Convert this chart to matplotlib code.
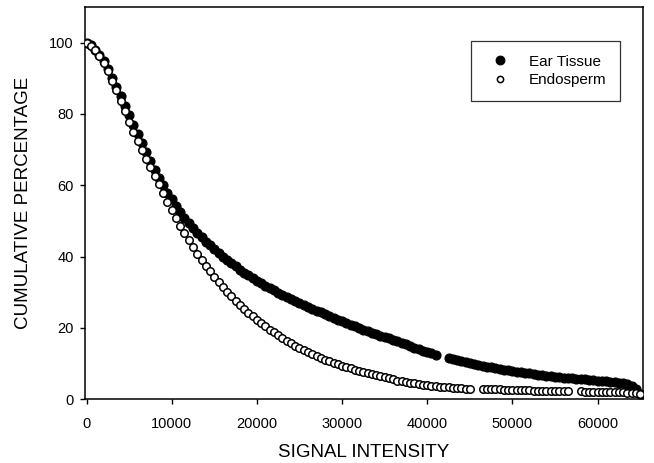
import numpy as np
import matplotlib
matplotlib.use("Agg")
import matplotlib.pyplot as plt

# signal intensity bins (step 500), shared by both series
intensity = np.arange(0, 65001, 500)

# cumulative percentage (nan = no point in the bin)
ear_tissue = [
    100, 99.2, 98.0, 96.6, 94.8, 92.6, 90.2, 87.6, 85.0, 82.3,
    79.6, 76.9, 74.3, 71.7, 69.2, 66.8, 64.4, 62.1, 60.0, 57.9,
    56.0, 54.2, 52.5, 50.9, 49.4, 48.0, 46.7, 45.4, 44.2, 43.1,
    42.0, 40.9, 39.9, 39.0, 38.1, 37.2, 36.3, 35.5, 34.7, 33.9,
    33.2, 32.5, 31.8, 31.1, 30.5, 29.9, 29.3, 28.7, 28.1, 27.5,
    26.9, 26.4, 25.8, 25.3, 24.8, 24.3, 23.8, 23.3, 22.8, 22.3,
    21.8, 21.3, 20.8, 20.4, 19.9, 19.5, 19.0, 18.6, 18.2, 17.8,
    17.4, 17.0, 16.6, 16.2, 15.8, 15.4, 14.8, 14.4, 14.0, 13.6,
    13.2, 12.8, 12.4, np.nan, np.nan, 11.6, 11.3, 11.0, 10.7, 10.4,
    10.1, 9.8, 9.6, 9.3, 9.1, 8.9, 8.7, 8.5, 8.3, 8.1,
    7.9, 7.7, 7.5, 7.4, 7.3, 7.1, 6.9, 6.8, 6.6, 6.5,
    6.3, 6.2, 6.0, 5.9, 5.8, 5.7, 5.6, 5.5, 5.4, 5.3,
    5.2, 5.1, 5.0, 4.9, 4.8, 4.6, 4.4, 4.1, 3.6, 2.8,
    1.5,
]

endosperm = [
    100, 99.0, 97.8, 96.2, 94.2, 91.9, 89.3, 86.6, 83.7, 80.8,
    77.8, 75.0, 72.3, 69.8, 67.4, 65.0, 62.6, 60.2, 57.8, 55.4,
    53.1, 50.8, 48.6, 46.5, 44.5, 42.6, 40.8, 39.1, 37.4, 35.8,
    34.3, 32.8, 31.4, 30.0, 28.8, 27.6, 26.4, 25.3, 24.2, 23.2,
    22.2, 21.3, 20.4, 19.5, 18.7, 17.9, 17.1, 16.4, 15.7, 15.0,
    14.4, 13.8, 13.2, 12.6, 12.1, 11.6, 11.1, 10.6, 10.2, 9.8,
    9.4, 9.0, 8.6, 8.3, 8.0, 7.7, 7.4, 7.1, 6.7, 6.4,
    6.1, 5.8, 5.5, 5.2, 5.0, 4.8, 4.6, 4.4, 4.2, 4.0,
    3.9, 3.7, 3.6, 3.5, 3.4, 3.3, 3.2, 3.1, 3.0, 2.9,
    2.9, np.nan, np.nan, 2.8, 2.8, 2.7, 2.7, 2.7, 2.6, 2.6,
    2.6, 2.5, 2.5, 2.5, 2.5, 2.4, 2.4, 2.4, 2.4, 2.3,
    2.3, 2.3, 2.3, 2.2, np.nan, np.nan, 2.2, 2.1, 2.1, 2.1,
    2.1, 2.0, 2.0, 2.0, 2.0, 1.9, 1.9, 1.8, 1.8, 1.7,
    1.5,
]

plt.rcParams['font.family'] = ['Liberation Sans', 'DejaVu Sans']

fig = plt.figure(figsize=(6.54, 4.63), dpi=100)
ax = fig.add_axes([0.130, 0.138, 0.853, 0.847])

ax.plot(intensity, ear_tissue, 'o', ms=6.4, mfc='black', mec='black',
        mew=0.9, label='Ear Tissue', zorder=2)
ax.plot(intensity, endosperm, 'o', ms=5.4, mfc='white', mec='black',
        mew=1.1, label='Endosperm', zorder=3)

ax.set_xlim(-180, 65320)
ax.set_ylim(0, 110)
ax.set_xticks([0, 10000, 20000, 30000, 40000, 50000, 60000])
ax.set_yticks([0, 20, 40, 60, 80, 100])
ax.tick_params(direction='out', length=3.6, width=1, labelsize=10.5)
ax.tick_params(axis='x', pad=9)
ax.tick_params(axis='y', pad=4.5)

for s in ax.spines.values():
    s.set_linewidth(1.1)

ax.set_xlabel('SIGNAL INTENSITY', fontsize=13.5, labelpad=9.5)
ax.set_ylabel('CUMULATIVE PERCENTAGE', fontsize=13.5, labelpad=12)

leg = ax.legend(loc='upper right', bbox_to_anchor=(0.959, 0.913),
                borderaxespad=0, fontsize=11, frameon=True, fancybox=False,
                edgecolor='black', borderpad=0.9, handletextpad=0.85,
                labelspacing=0.3)
leg.get_frame().set_linewidth(0.9)
leg.legend_handles[0].set_markersize(6.2)
leg.legend_handles[1].set_markersize(4.5)

fig.savefig('out.png', dpi=100)
